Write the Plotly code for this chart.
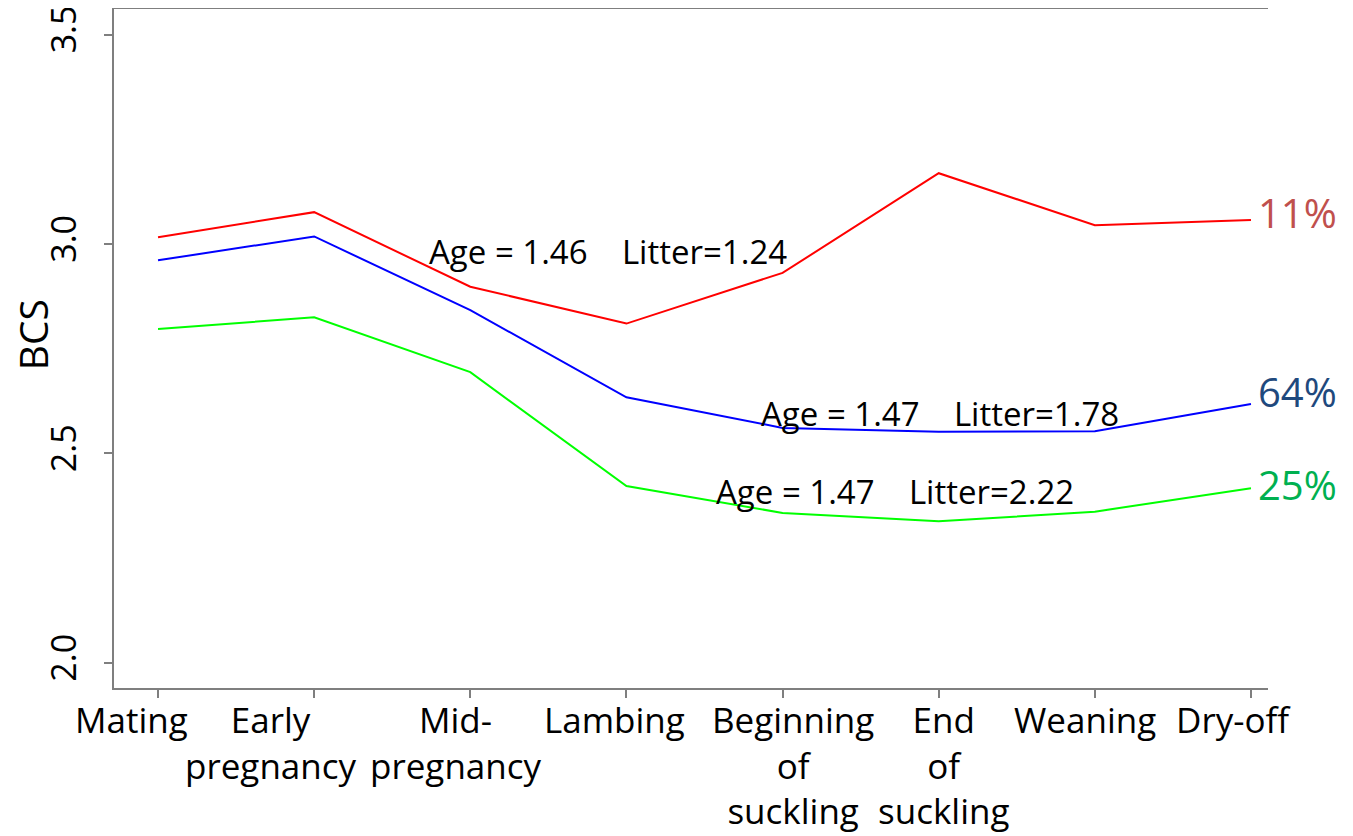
import plotly.graph_objects as go

categories = ["Mating", "Early<br>pregnancy", "Mid-<br>pregnancy", "Lambing",
              "Beginning<br>of<br>suckling", "End<br>of<br>suckling", "Weaning", "Dry-off"]
red_vals = [3.016, 3.076, 2.898, 2.810, 2.931, 3.169, 3.045, 3.057]
blue_vals = [2.961, 3.018, 2.842, 2.634, 2.561, 2.552, 2.553, 2.618]
green_vals = [2.797, 2.825, 2.694, 2.422, 2.358, 2.338, 2.361, 2.417]
y_ticks = [2.0, 2.5, 3.0, 3.5]
y_tick_labels = ["2.0", "2.5", "3.0", "3.5"]
pct_labels = ["11%", "64%", "25%"]
pct_y = [3.076, 2.649, 2.427]
pct_colors = ["#C0504D", "#1F497D", "#00B050"]
note_texts = ["Age = 1.46\u00a0\u00a0\u00a0\u00a0Litter=1.24",
              "Age = 1.47\u00a0\u00a0\u00a0\u00a0Litter=1.78",
              "Age = 1.47\u00a0\u00a0\u00a0\u00a0Litter=2.22"]
note_x = [2.88, 5.01, 4.72]
note_y = [2.983, 2.595, 2.409]

# pixel nudges of the category labels relative to their ticks (style only)
label_shift = [-27, -43, -14, -12, 10, 5, -10, -17]

FONT = "Open Sans"
x = list(range(len(categories)))

fig = go.Figure()
for vals, col in [(red_vals, "#FF0000"), (blue_vals, "#0000FF"), (green_vals, "#00FF00")]:
    fig.add_trace(go.Scatter(x=x, y=vals, mode="lines",
                             line=dict(color=col, width=2), showlegend=False,
                             hoverinfo="skip"))

for t, yv, c in zip(pct_labels, pct_y, pct_colors):
    fig.add_annotation(x=x[-1], y=yv, text=t, showarrow=False, xanchor="left",
                       yanchor="middle", xshift=5,
                       font=dict(family=FONT, size=40, color=c))

for t, xv, yv in zip(note_texts, note_x, note_y):
    fig.add_annotation(x=xv, y=yv, text=t, showarrow=False, xanchor="center",
                       yanchor="middle", font=dict(family=FONT, size=33, color="black"))

for t, xv, s in zip(categories, x, label_shift):
    fig.add_annotation(x=xv, xref="x", y=0, yref="paper", text=t, showarrow=False,
                       xanchor="center", yanchor="top", xshift=s, yshift=-6,
                       align="center",
                       font=dict(family=FONT, size=35, color="black"))

fig.add_annotation(xref="paper", yref="paper", x=-0.070, y=0.52, text="BCS",
                   showarrow=False, textangle=-90, xanchor="center", yanchor="middle",
                   font=dict(family=FONT, size=39, color="black"))

fig.update_layout(
    width=1345, height=828,
    margin=dict(l=106, r=85, t=1, b=148),
    paper_bgcolor="white", plot_bgcolor="white",
    font=dict(family=FONT, color="black"),
    xaxis=dict(range=[-0.282, 7.109], tickmode="array", tickvals=x,
               showticklabels=False, automargin=False,
               showgrid=False, zeroline=False, showline=True, mirror=True,
               linecolor="#7f7f7f", linewidth=2, ticks="outside", ticklen=8,
               tickwidth=1.5, tickcolor="#7f7f7f"),
    yaxis=dict(range=[1.940, 3.561], tickmode="array", tickvals=y_ticks,
               ticktext=y_tick_labels, showgrid=False, zeroline=False,
               automargin=False, ticklabeloverflow="allow",
               showline=True, linecolor="#7f7f7f", linewidth=2,
               ticks="outside", ticklen=8, tickwidth=1.5, tickcolor="#7f7f7f",
               tickangle=-90, ticklabelstandoff=14,
               tickfont=dict(family=FONT, size=34, color="black")),
)

fig.write_html("out.html")
